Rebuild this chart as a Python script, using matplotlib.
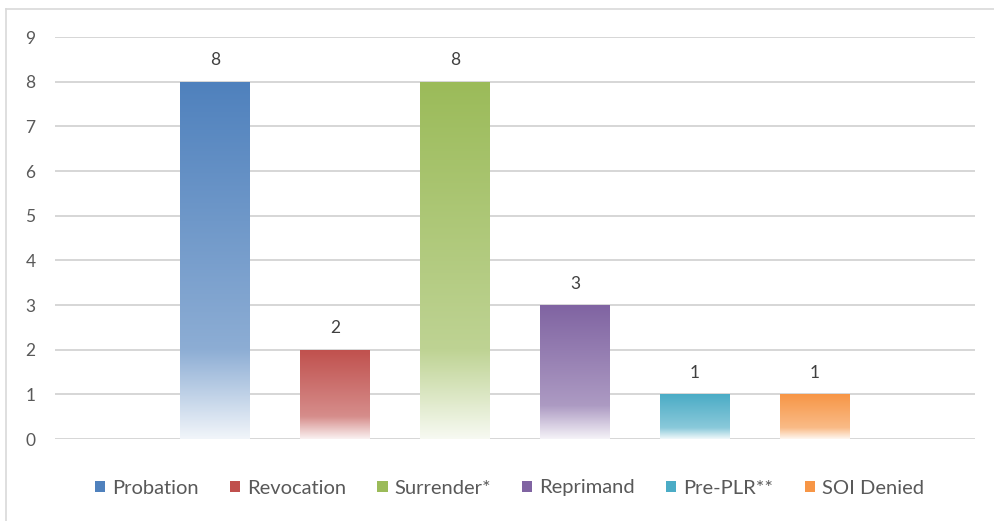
import numpy as np
import matplotlib.pyplot as plt
from matplotlib.colors import to_rgb
from matplotlib.lines import Line2D
from matplotlib.patches import Patch

plt.rcParams['font.family'] = ['Lato', 'DejaVu Sans']

labels = ['Probation', 'Revocation', 'Surrender*', 'Reprimand', 'Pre-PLR**', 'SOI Denied']
values = [8, 2, 8, 3, 1, 1]
colors = ['#4F81BD', '#C0504D', '#9BBB59', '#8064A2', '#4BACC6', '#F79646']

fig = plt.figure(figsize=(9.95, 5.21), dpi=100)
ax = fig.add_axes([55 / 995, 1 - 439 / 521, 920 / 995, 402 / 521])

x = np.arange(len(values))
bars = ax.bar(x, values, width=0.583, color='none', zorder=3)


def gradient(color):
    # excel style: solid at top, lighter at 75%, almost white at bottom
    c = np.array(to_rgb(color))
    w = np.ones(3)
    t = np.linspace(0, 1, 200)
    mix = np.where(t < 0.75, t / 0.75 * 0.35,
                   0.35 + (t - 0.75) / 0.25 * 0.57)
    img = c[None, :] * (1 - mix[:, None]) + w[None, :] * mix[:, None]
    return img[:, None, :]


for b, col, v in zip(bars, colors, values):
    x0 = b.get_x()
    x1 = x0 + b.get_width()
    im = ax.imshow(gradient(col), extent=(x0, x1, 0, b.get_height()),
                   aspect='auto', zorder=3, interpolation='bilinear')
    im.set_clip_path(b)
    ax.text(b.get_x() + b.get_width() / 2, v + 0.3, str(v),
            ha='center', va='bottom', fontsize=12.5, color='#404040')

ax.set_xlim(-1.333, 5 + 1.333)
ax.set_ylim(0, 9)
ax.set_yticks(range(0, 10))
ax.set_xticks([])
ax.grid(axis='y', color='#D0D0D0', linewidth=1.2, zorder=0)
for s in ax.spines.values():
    s.set_visible(False)
ax.tick_params(axis='y', length=0, pad=14, labelsize=12.5, labelcolor='#595959')

handles = [Patch(facecolor=c, edgecolor='none') for c in colors]
fig.legend(handles, labels, loc='center', bbox_to_anchor=(0.512, 1 - 488 / 521),
           ncol=6, frameon=False, fontsize=14.5, labelcolor='#595959',
           handlelength=0.5, handleheight=0.5, handletextpad=0.35,
           columnspacing=1.55)

# outer chart border
fig.add_artist(Line2D([6 / 995, 6 / 995], [0, 1 - 9 / 521], color='#D9D9D9',
                      linewidth=1.2, transform=fig.transFigure))
fig.add_artist(Line2D([6 / 995, 1], [1 - 9 / 521, 1 - 9 / 521], color='#D9D9D9',
                      linewidth=1.2, transform=fig.transFigure))

fig.savefig('out.png', dpi=100)
